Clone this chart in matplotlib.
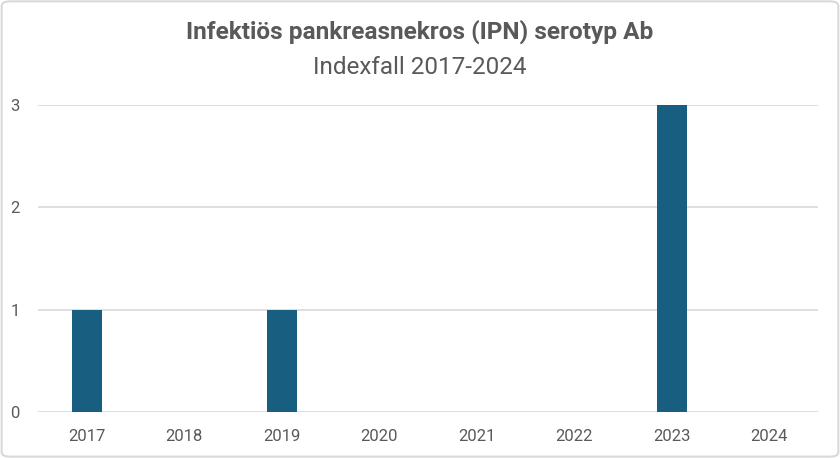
import matplotlib.pyplot as plt
from matplotlib import font_manager
from matplotlib.patches import FancyBboxPatch

years = ["2017", "2018", "2019", "2020", "2021", "2022", "2023", "2024"]
cases = [1, 0, 1, 0, 0, 0, 3, 0]
yticks = [0, 1, 2, 3]

names = {f.name for f in font_manager.fontManager.ttflist}
fam = ["Liberation Sans Narrow"] if "Liberation Sans Narrow" in names else ["Roboto", "DejaVu Sans"]
plt.rcParams["font.family"] = fam + ["DejaVu Sans"]

txt = "#595959"
fig = plt.figure(figsize=(8.4, 4.58), dpi=100)
ax = fig.add_axes([38 / 840, 46 / 458, 780 / 840, 307 / 458])

x = range(len(years))
ax.bar(x, cases, width=0.31, color="#175e80", zorder=3)
ax.set_xlim(-0.5, len(years) - 0.5)
ax.set_ylim(0, 3)
ax.set_yticks(yticks)
ax.set_xticks(list(x))
ax.set_xticklabels(years)
ax.yaxis.grid(True, color="#d9d9d9", lw=1.2, zorder=0)
for s in ax.spines.values():
    s.set_visible(False)
ax.tick_params(length=0, colors=txt, labelsize=12)
ax.tick_params(axis="y", pad=13)
ax.tick_params(axis="x", pad=12)

fig.text(0.5, 1 - 32 / 458, "Infektiös pankreasnekros (IPN) serotyp Ab",
         ha="center", va="center", fontsize=17.6, fontweight="bold", color=txt)
fig.text(0.5, 1 - 67 / 458, "Indexfall 2017-2024",
         ha="center", va="center", fontsize=17.5, color=txt)

fig.patches.append(FancyBboxPatch((0.002, 0.003), 0.996, 0.994, boxstyle="round,pad=0,rounding_size=0.01",
                                  transform=fig.transFigure, fill=False, ec="#d9d9d9", lw=1.5))

fig.savefig("out.png", dpi=100, facecolor="white")
